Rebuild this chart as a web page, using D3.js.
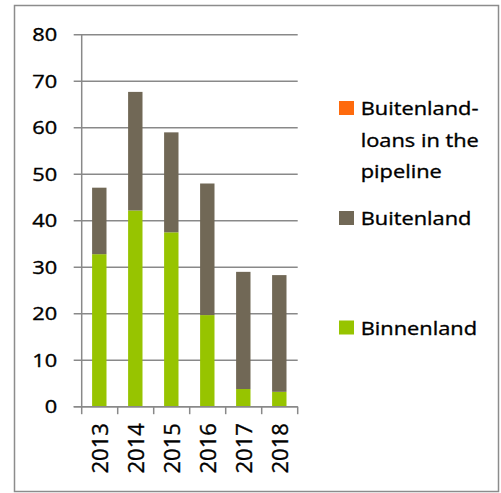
<!DOCTYPE html>
<html>
<head>
<meta charset="utf-8">
<script src="https://cdn.jsdelivr.net/npm/d3@7"></script>
<style>
  body { margin: 0; background: #fff; }
  text { font-family: "Open Sans", sans-serif; fill: #000; stroke: #000; stroke-width: 0.35px; }
</style>
</head>
<body>
<div id="wrapper"></div>
<script>
// data
const years = ['2013', '2014', '2015', '2016', '2017', '2018']
const binnenland = [32.8, 42.2, 37.5, 19.7, 3.8, 3.2]
const buitenlandTotal = [47.1, 67.7, 59.0, 48.0, 29.0, 28.3]
const buitenland = buitenlandTotal.map((t, i) => t - binnenland[i])
const pipeline = [0, 0, 0, 0, 0, 0]
const yTicks = [0, 10, 20, 30, 40, 50, 60, 70, 80]

const seriesNames = ['Binnenland', 'Buitenland', 'Buitenland-loans in the pipeline']
const colors = ['#97c400', '#716856', '#fe6a0d']

const dimensions = {
    width: 501,
    height: 493,
    margin: { top: 34.7, left: 81.7, right: 203.3, bottom: 86.3 }
}
dimensions.boundedWidth = dimensions.width - dimensions.margin.left - dimensions.margin.right
dimensions.boundedHeight = dimensions.height - dimensions.margin.top - dimensions.margin.bottom

const gridColor = '#898989'
const stretch = 1.18

function drawChart () {
    const svg = d3.select('#wrapper').append('svg')
        .attr('width', dimensions.width)
        .attr('height', dimensions.height)

    // outer frame
    svg.append('rect')
        .attr('x', 14.5).attr('y', 5.5)
        .attr('width', 484).attr('height', 486)
        .attr('fill', 'none')
        .attr('stroke', '#8c8c8c')
        .attr('stroke-width', 1.5)

    const bounds = svg.append('g')
        .attr('transform', `translate(${dimensions.margin.left}, ${dimensions.margin.top})`)

    const xScale = d3.scaleBand()
        .domain(years)
        .range([0, dimensions.boundedWidth])
        .padding(0)

    const yScale = d3.scaleLinear()
        .domain([0, 80])
        .range([dimensions.boundedHeight, 0])

    // gridlines + left ticks
    bounds.append('g')
        .selectAll('line')
        .data(yTicks)
        .join('line')
        .attr('x1', -8)
        .attr('x2', dimensions.boundedWidth)
        .attr('y1', d => yScale(d))
        .attr('y2', d => yScale(d))
        .attr('stroke', gridColor)
        .attr('stroke-width', 1.5)

    // stacked bars
    const rows = years.map((y, i) => ({
        year: y, Binnenland: binnenland[i], Buitenland: buitenland[i],
        'Buitenland-loans in the pipeline': pipeline[i]
    }))
    const stacked = d3.stack().keys(seriesNames)(rows)
    const barWidth = xScale.bandwidth() * 0.4

    bounds.append('g')
        .selectAll('g')
        .data(stacked)
        .join('g')
        .attr('fill', (d, i) => colors[i])
        .selectAll('rect')
        .data(d => d)
        .join('rect')
        .attr('x', d => xScale(d.data.year) + (xScale.bandwidth() - barWidth) / 2 - 0.4)
        .attr('width', barWidth)
        .attr('y', d => yScale(d[1]))
        .attr('height', d => yScale(d[0]) - yScale(d[1]))

    // y axis line
    bounds.append('line')
        .attr('x1', 0).attr('x2', 0)
        .attr('y1', 0).attr('y2', dimensions.boundedHeight)
        .attr('stroke', gridColor)
        .attr('stroke-width', 1.5)

    // x axis baseline and ticks at band edges
    bounds.append('line')
        .attr('x1', -8).attr('x2', dimensions.boundedWidth)
        .attr('y1', dimensions.boundedHeight).attr('y2', dimensions.boundedHeight)
        .attr('stroke', gridColor)
        .attr('stroke-width', 1.5)

    const edges = years.map(y => xScale(y)).concat([dimensions.boundedWidth])
    bounds.append('g')
        .selectAll('line')
        .data(edges)
        .join('line')
        .attr('x1', d => d).attr('x2', d => d)
        .attr('y1', dimensions.boundedHeight)
        .attr('y2', dimensions.boundedHeight + 7.5)
        .attr('stroke', gridColor)
        .attr('stroke-width', 1.5)

    // y labels
    bounds.append('g')
        .selectAll('text')
        .data(yTicks)
        .join('text')
        .attr('transform', d => `translate(-24.5, ${yScale(d)}) scale(${stretch}, 1)`)
        .attr('dy', '0.357em')
        .attr('text-anchor', 'end')
        .style('font-size', '18.5px')
        .text(d => d)

    // x labels, rotated
    bounds.append('g')
        .selectAll('text')
        .data(years)
        .join('text')
        .attr('transform', d => `translate(${xScale(d) + xScale.bandwidth() / 2 + 8}, ${dimensions.boundedHeight + 16.5}) rotate(-90)`)
        .attr('text-anchor', 'end')
        .style('font-size', '22px')
        .text(d => d)

    // legend
    const legendItems = [
        { color: colors[2], lines: ['Buitenland-', 'loans in the', 'pipeline'], y: 115 },
        { color: colors[1], lines: ['Buitenland'], y: 225 },
        { color: colors[0], lines: ['Binnenland'], y: 334.5 }
    ]
    const legend = svg.append('g')
    legendItems.forEach(item => {
        legend.append('rect')
            .attr('x', 339).attr('y', item.y - 14)
            .attr('width', 15).attr('height', 14)
            .attr('fill', item.color)
        item.lines.forEach((l, j) => {
            legend.append('text')
                .attr('transform', `translate(360.7, ${item.y + j * 31.5}) scale(${stretch}, 1)`)
                .style('font-size', '18.5px')
                .text(l)
        })
    })
}

drawChart()
</script>
</body>
</html>
